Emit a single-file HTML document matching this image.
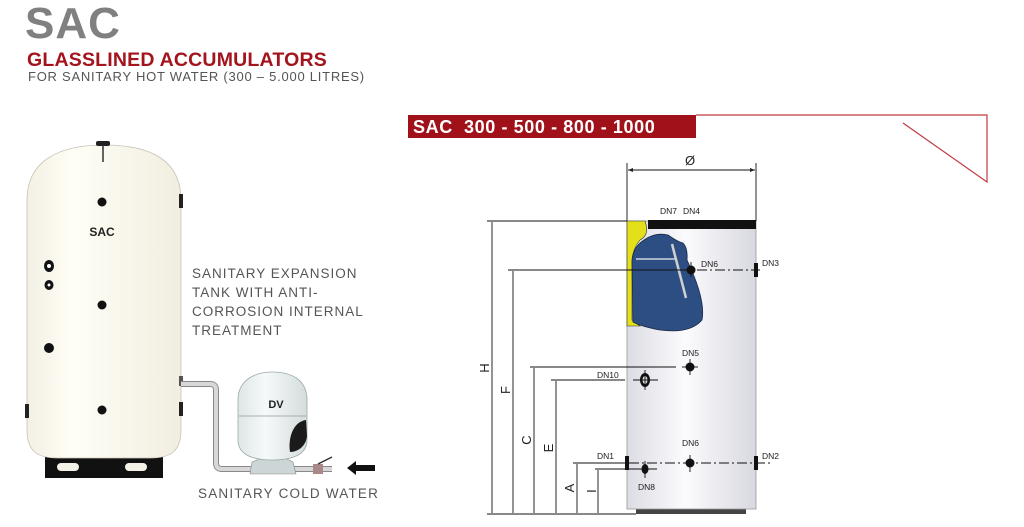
<!DOCTYPE html>
<html><head><meta charset="utf-8"><style>
html,body{margin:0;padding:0;background:#fff;}
body{width:1024px;height:522px;overflow:hidden;position:relative;font-family:"Liberation Sans",sans-serif;}
</style></head><body>
<svg width="1024" height="522" viewBox="0 0 1024 522" xmlns="http://www.w3.org/2000/svg" font-family="Liberation Sans, sans-serif">
<defs>
<linearGradient id="tk" x1="0" x2="1"><stop offset="0" stop-color="#f3f0e4"/><stop offset="0.3" stop-color="#fffef6"/><stop offset="1" stop-color="#f1eee0"/></linearGradient>
<linearGradient id="st" x1="0" x2="1"><stop offset="0" stop-color="#dcdce4"/><stop offset="0.45" stop-color="#fbfbfd"/><stop offset="1" stop-color="#d8d8e0"/></linearGradient>
<linearGradient id="dv" x1="0" x2="1"><stop offset="0" stop-color="#dfe6e6"/><stop offset="0.4" stop-color="#f6f9f9"/><stop offset="1" stop-color="#d4dcdc"/></linearGradient>
</defs>
<!-- header -->
<text x="25" y="38" font-size="44" font-weight="bold" fill="#808080" letter-spacing="1">SAC</text>
<text x="27" y="66" font-size="19.5" font-weight="bold" fill="#a3141d" letter-spacing="0.2">GLASSLINED ACCUMULATORS</text>
<text x="28" y="81" font-size="13" fill="#555" letter-spacing="0.75">FOR SANITARY HOT WATER (300 – 5.000 LITRES)</text>
<!-- red band -->
<rect x="408" y="115" width="288" height="23" fill="#a0111a"/>
<text x="413" y="133" font-size="18" font-weight="bold" fill="#fff" letter-spacing="0.6" xml:space="preserve">SAC  300 - 500 - 800 - 1000</text>
<polyline points="696,115 987,115 987,182 903,123" fill="none" stroke="#c0393f" stroke-width="1.2"/>
<!-- left tank -->
<rect x="45" y="455" width="118" height="23" fill="#111"/>
<rect x="57" y="463" width="22" height="8" rx="4" fill="#f4f1e6"/>
<rect x="125" y="463" width="22" height="8" rx="4" fill="#f4f1e6"/>
<path d="M27,200 C27,160 60,145 104,145 C150,145 181,160 181,200 L181,430 C181,452 170,458 150,458 L58,458 C38,458 27,452 27,430 Z" fill="url(#tk)" stroke="#c8c4b4" stroke-width="0.8"/>
<rect x="96" y="141" width="14" height="5" rx="2" fill="#222"/>
<line x1="103" y1="145" x2="103" y2="162" stroke="#333" stroke-width="1.5"/>
<rect x="179" y="194" width="4" height="14" fill="#222"/><rect x="179" y="402" width="4" height="14" fill="#222"/><rect x="25" y="404" width="4" height="14" fill="#222"/><rect x="179" y="376" width="4" height="10" fill="#555"/>
<circle cx="102" cy="202" r="4.5" fill="#111"/><circle cx="102" cy="305" r="4.5" fill="#111"/><circle cx="102" cy="410" r="4.5" fill="#111"/>
<ellipse cx="49" cy="266" rx="5" ry="6" fill="#111"/><circle cx="49" cy="266" r="2" fill="#fff"/>
<ellipse cx="49" cy="285" rx="4.5" ry="5" fill="#111"/><circle cx="49" cy="285" r="1.5" fill="#fff"/>
<circle cx="49" cy="348" r="5" fill="#111"/>
<text x="102" y="236" font-size="12" font-weight="bold" fill="#222" text-anchor="middle">SAC</text>
<!-- pipe -->
<path d="M181,384 L210,384 Q216,384 216,390 L216,463 Q216,469 222,469 L332,469" fill="none" stroke="#888" stroke-width="6"/>
<path d="M181,384 L210,384 Q216,384 216,390 L216,463 Q216,469 222,469 L332,469" fill="none" stroke="#d8d8d8" stroke-width="4"/>
<rect x="313" y="464" width="10" height="10" fill="#a88"/><line x1="318" y1="464" x2="332" y2="457" stroke="#333" stroke-width="1.5"/>
<!-- DV tank -->
<path d="M252,462 L262,458 L285,458 L293,462 L296,474 L250,474 Z" fill="#cdd6d6" stroke="#888" stroke-width="0.6"/>
<path d="M238,400 C238,380 255,372 272,372 C292,372 307,380 307,400 L307,440 C307,452 298,460 272,460 C248,460 238,452 238,440 Z" fill="url(#dv)" stroke="#9aa" stroke-width="0.8"/>
<line x1="239" y1="416" x2="306" y2="416" stroke="#999" stroke-width="0.8"/>
<path d="M306,420 C292,422 288,440 290,452 C298,452 306,446 307,436 Z" fill="#1b1b1b"/>
<text x="276" y="408" font-size="11" font-weight="bold" fill="#222" text-anchor="middle">DV</text>
<!-- arrow -->
<path d="M375,465 L356,465 L356,461 L347,468 L356,475 L356,471 L375,471 Z" fill="#111"/>
<g font-size="13.5" fill="#555" letter-spacing="1">
<text x="192" y="278">SANITARY EXPANSION</text>
<text x="192" y="297">TANK WITH ANTI-</text>
<text x="192" y="316">CORROSION INTERNAL</text>
<text x="192" y="335">TREATMENT</text>
<text x="198" y="498" letter-spacing="1.2">SANITARY COLD WATER</text>
</g>
<!-- right tank -->
<rect x="636" y="506" width="110" height="8" fill="#444"/>
<rect x="627" y="221" width="129" height="288" fill="url(#st)" stroke="#999" stroke-width="0.8"/>
<path d="M627,221 L645,221 Q650,235 640,240 Q632,250 632,262 L632,320 L640,326 L627,326 Z" fill="#e3df1a" stroke="#333" stroke-width="0.6"/>
<rect x="648" y="220" width="108" height="9" fill="#111"/>
<path d="M644,240 Q655,232 668,235 Q678,242 683,243 Q688,248 687,260 Q706,300 702,320 Q690,334 660,330 Q640,326 633,322 L632,262 Q632,248 644,240 Z" fill="#2d4e82" stroke="#1a2a4a" stroke-width="0.8"/>
<line x1="636" y1="259" x2="675" y2="259" stroke="#cfd6e0" stroke-width="1.5"/>
<line x1="672" y1="244" x2="686" y2="298" stroke="#d0d0d0" stroke-width="2.5"/>
<!-- fittings -->
<g fill="#111">
<circle cx="691" cy="270" r="4.5"/><circle cx="690" cy="367" r="4.5"/><ellipse cx="645" cy="380" rx="5" ry="7"/>
<circle cx="690" cy="463" r="4.5"/><ellipse cx="645" cy="469" rx="3.5" ry="5"/>
<rect x="625" y="456" width="4" height="14"/><rect x="754" y="456" width="4" height="14"/><rect x="754" y="263" width="4" height="14"/>
</g>
<ellipse cx="645" cy="380" rx="2.5" ry="4" fill="#ddd"/>
<g stroke="#111" stroke-width="0.9" fill="none">
<line x1="682" y1="367" x2="698" y2="367"/><line x1="690" y1="359" x2="690" y2="375"/>
<line x1="633" y1="380" x2="658" y2="380"/><line x1="645" y1="370" x2="645" y2="390"/>
<line x1="690" y1="455" x2="690" y2="472"/><line x1="645" y1="461" x2="645" y2="478"/><line x1="637" y1="469" x2="657" y2="469"/>
<line x1="691" y1="262" x2="691" y2="277"/>
<!-- dims -->
<line x1="627" y1="163" x2="627" y2="221"/><line x1="756" y1="163" x2="756" y2="221"/>
<line x1="628" y1="170" x2="755" y2="170"/>
<line x1="487" y1="221" x2="627" y2="221"/><line x1="487" y1="514" x2="636" y2="514"/>
<line x1="492" y1="222" x2="492" y2="513"/>
<line x1="508" y1="270" x2="690" y2="270"/><line x1="513" y1="271" x2="513" y2="513"/>
<line x1="530" y1="367" x2="676" y2="367"/><line x1="534" y1="368" x2="534" y2="513"/>
<line x1="551" y1="380" x2="625" y2="380"/><line x1="556" y1="381" x2="556" y2="513"/>
<line x1="573" y1="463" x2="625" y2="463"/><line x1="577" y1="464" x2="577" y2="513"/>
<line x1="595" y1="469" x2="640" y2="469"/><line x1="598" y1="470" x2="598" y2="513"/>
<line x1="629" y1="463" x2="770" y2="463" stroke-dasharray="10,3,2,3"/>
<line x1="697" y1="270" x2="760" y2="270" stroke-dasharray="10,3,2,3"/>
</g>
<g fill="#222"><path d="M628,170 l5,-2 v4z"/><path d="M755,170 l-5,-2 v4z"/></g>
<g font-size="8.5" fill="#222">
<text x="660" y="214">DN7</text><text x="683" y="214">DN4</text>
<text x="701" y="267">DN6</text><text x="762" y="266">DN3</text>
<text x="682" y="356">DN5</text><text x="597" y="378">DN10</text>
<text x="682" y="446">DN6</text><text x="762" y="459">DN2</text>
<text x="597" y="459">DN1</text><text x="638" y="490">DN8</text>
</g>
<text x="690" y="165" font-size="13" fill="#222" text-anchor="middle">Ø</text>
<g font-size="13" fill="#222">
<text transform="translate(489,368) rotate(-90)" text-anchor="middle">H</text>
<text transform="translate(510,390) rotate(-90)" text-anchor="middle">F</text>
<text transform="translate(531,440) rotate(-90)" text-anchor="middle">C</text>
<text transform="translate(553,448) rotate(-90)" text-anchor="middle">E</text>
<text transform="translate(574,488) rotate(-90)" text-anchor="middle">A</text>
<text transform="translate(596,491) rotate(-90)" text-anchor="middle">I</text>
</g>
</svg>
</body></html>
